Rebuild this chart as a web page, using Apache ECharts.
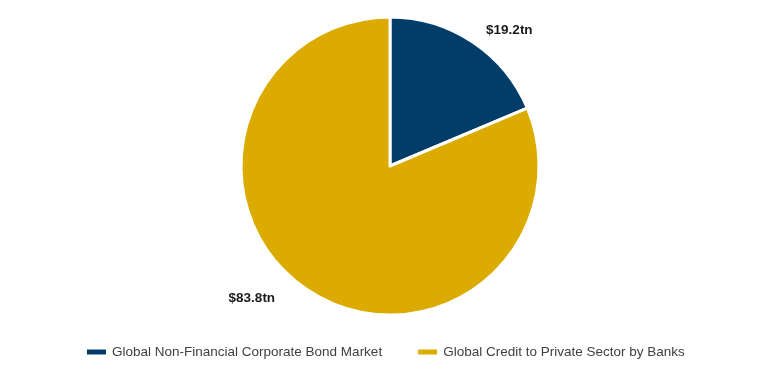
<!DOCTYPE html>
<html>
<head>
<meta charset="utf-8">
<script src="https://cdn.jsdelivr.net/npm/echarts@6/dist/echarts.min.js"></script>
<style>html,body{margin:0;padding:0;background:#fff}#c{width:770px;height:371px}</style>
</head>
<body>
<div id="c"></div>
<script>
const categories = ['Global Non-Financial Corporate Bond Market', 'Global Credit to Private Sector by Banks'];
const values = [19.2, 83.8];
const labels = ['$19.2tn', '$83.8tn'];
const colors = ['#023C69', '#DCAB00'];
const lineLengths = [[14, 1], [10, 22]];

const chart = echarts.init(document.getElementById('c'));
chart.setOption({
  animation: false,
  legend: {
    bottom: 7,
    left: 80,
    itemWidth: 21,
    itemHeight: 7,
    itemGap: 34,
    itemTextGap: 8,
    icon: 'rect',
    textStyle: { fontFamily: 'Liberation Sans, Arial', fontSize: 13.5, color: '#404040' },
    data: categories
  },
  series: [{
    type: 'pie',
    center: [390, 166],
    radius: [0, 149],
    startAngle: 90,
    clockwise: true,
    itemStyle: { borderColor: '#fff', borderWidth: 3 },
    label: {
      show: true,
      position: 'outside',
      fontFamily: 'Liberation Sans, Arial',
      fontWeight: 'bold',
      fontSize: 13.5,
      color: '#1a1a1a'
    },
    labelLine: { show: false },
    data: categories.map((c, i) => ({
      name: c,
      value: values[i],
      itemStyle: { color: colors[i] },
      label: { formatter: labels[i] },
      labelLine: { show: false, length: lineLengths[i][0], length2: lineLengths[i][1] }
    }))
  }]
});
</script>
</body>
</html>
